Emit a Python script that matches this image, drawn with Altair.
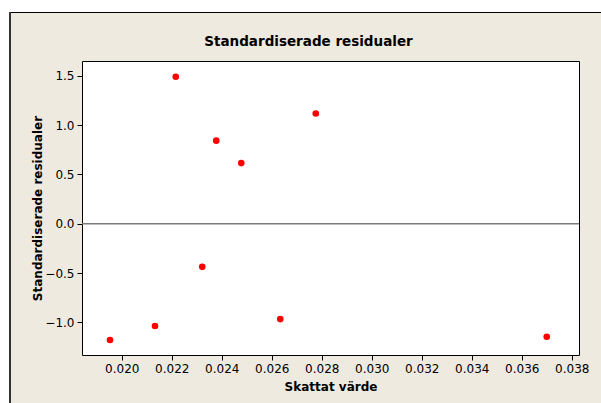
import altair as alt
import pandas as pd

# Data
fitted = [0.01953, 0.02133, 0.02216, 0.02322, 0.02378, 0.02478, 0.02634, 0.02776, 0.03700]
std_resid = [-1.179, -1.037, 1.490, -0.437, 0.842, 0.615, -0.967, 1.118, -1.146]
x_ticks = [0.020, 0.022, 0.024, 0.026, 0.028, 0.030, 0.032, 0.034, 0.036, 0.038]
y_ticks = [-1.0, -0.5, 0.0, 0.5, 1.0, 1.5]
ref_line = [0.0]
chart_title = ["Standardiserade residualer"]

df = pd.DataFrame({"fit": fitted, "res": std_resid})
ref_df = pd.DataFrame({"res": ref_line})
title_df = pd.DataFrame({"t": chart_title})

W, H = 497, 294
PL, PT, PR, PB = 82, 61, 22, 48
FONT = "DejaVu Sans"
BEIGE = "#EEEAE0"

xscale = alt.Scale(domain=[0.01841, 0.03829], nice=False, zero=False)
yscale = alt.Scale(domain=[-1.331, 1.65], nice=False, zero=False)

one = alt.Data(values=[{"k": 1}])

# decorative outer frame (white margin + border lines)
top_white = alt.Chart(one).mark_rect(color="white").encode(
    x=alt.value(-PL), x2=alt.value(W + PR), y=alt.value(-PT), y2=alt.value(-PT + 12))
left_white = alt.Chart(one).mark_rect(color="white").encode(
    x=alt.value(-PL), x2=alt.value(-PL + 9), y=alt.value(-PT), y2=alt.value(H + PB))
top_line = alt.Chart(one).mark_rule(color="black", strokeWidth=1).encode(
    x=alt.value(-PL + 9), x2=alt.value(W + PR), y=alt.value(-PT + 12.5))
left_line = alt.Chart(one).mark_rule(color="#333333", strokeWidth=2).encode(
    x=alt.value(-PL + 10), y=alt.value(-PT + 12), y2=alt.value(H + PB))

title_text = alt.Chart(title_df).mark_text(
    font=FONT, fontSize=13.5, fontWeight="bold", color="black",
    align="center", baseline="middle").encode(
    text="t:N", x=alt.value(W / 2 - 22), y=alt.value(-19))

zero = alt.Chart(ref_df).mark_rule(color="#7a7a7a", strokeWidth=1.5).encode(
    y=alt.Y("res:Q", scale=yscale))

points = alt.Chart(df).mark_circle(color="#FF0000", opacity=1, size=44).encode(
    x=alt.X("fit:Q", scale=xscale,
            axis=alt.Axis(values=x_ticks, format=".3f", title="Skattat värde",
                          titleY=31, titleBaseline="middle")),
    y=alt.Y("res:Q", scale=yscale,
            axis=alt.Axis(values=y_ticks, format=".1f", title="Standardiserade residualer",
                          titleX=-45, titleY=H / 2, titleAngle=270,
                          titleAlign="center", titleBaseline="middle")),
)

chart = alt.layer(top_white, left_white, top_line, left_line, title_text, zero, points).properties(
    width=W, height=H,
    padding={"left": PL, "top": PT, "right": PR, "bottom": PB},
    autosize=alt.AutoSizeParams(type="none"),
    background=BEIGE,
).configure_view(
    fill="white", stroke="black", strokeWidth=1
).configure_axis(
    domain=False, grid=False, ticks=True, tickColor="black", tickSize=5,
    labelFont=FONT, labelFontSize=12, labelColor="black", labelPadding=3,
    titleFont=FONT, titleFontSize=12, titleFontWeight="bold", titleColor="black",
)

chart.save("out.html", embed_options={"renderer": "svg", "actions": False})
